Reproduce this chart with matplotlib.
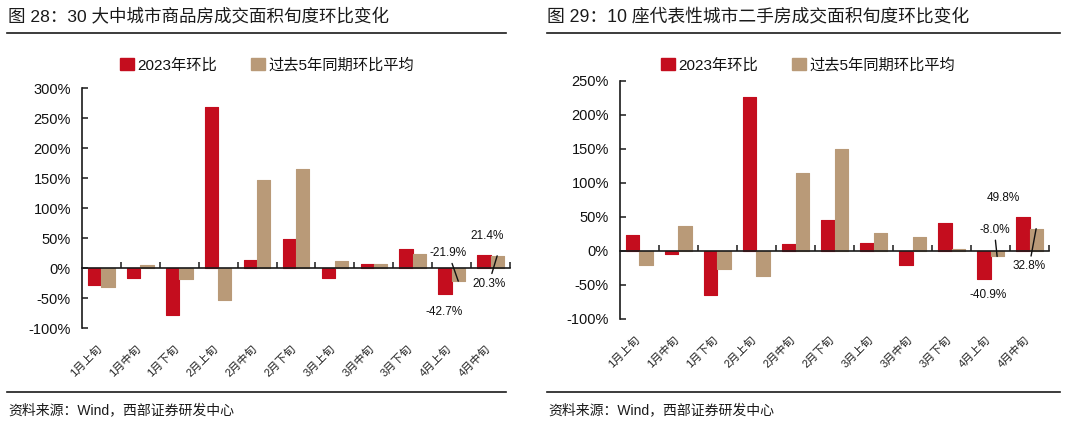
import matplotlib
matplotlib.use('Agg')
import matplotlib.pyplot as plt
import matplotlib.transforms as mtransforms
from matplotlib.lines import Line2D
from matplotlib.patches import Patch

plt.rcParams['font.family'] = ['Liberation Sans', 'Noto Sans CJK SC']

categories = ['1月上旬', '1月中旬', '1月下旬', '2月上旬', '2月中旬', '2月下旬',
              '3月上旬', '3月中旬', '3月下旬', '4月上旬', '4月中旬']

# 30 大中城市商品房
left_2023 = [-29, -16, -78, 268, 14, 48, -16, 7, 31, -42.7, 21.4]
left_avg5 = [-32, 5, -19, -53, 147, 165, 12, 6, 23, -21.9, 20.3]

# 10 座代表性城市二手房
right_2023 = [23, -5, -65, 226, 10, 46, 12, -20, 41, -40.9, 49.8]
right_avg5 = [-21, 37, -27, -37, 114, 150, 27, 21, 3, -8.0, 32.8]

RED = '#C40D1E'
TAN = '#B99A78'
DARK = '#1a1a1a'

W, H = 1074, 424
fig = plt.figure(figsize=(W / 100, H / 100), dpi=100)


def px_axes(x0, y_top, x1, y_bot):
    return fig.add_axes([x0 / W, 1 - y_bot / H, (x1 - x0) / W, (y_bot - y_top) / H])


def draw_panel(ax, red, tan, ylim, yticks, notes):
    x = list(range(len(categories)))
    w = 0.34
    ax.bar([i - w / 2 for i in x], red, width=w, color=RED, edgecolor=RED,
           linewidth=0.8, joinstyle='round', zorder=2)
    ax.bar([i + w / 2 for i in x], tan, width=w, color=TAN, edgecolor=TAN,
           linewidth=0.8, joinstyle='round', zorder=2)
    ax.set_xlim(-0.5, len(categories) - 0.5)
    ax.set_ylim(*ylim)
    ax.set_yticks(yticks)
    ax.set_yticklabels([f'{v}%' for v in yticks])
    ax.spines['top'].set_visible(False)
    ax.spines['right'].set_visible(False)
    ax.spines['bottom'].set_position(('data', 0))
    for s in ('left', 'bottom'):
        ax.spines[s].set_color(DARK)
        ax.spines[s].set_linewidth(1.2)
        ax.spines[s].set_zorder(3)
    ax.set_xticks([i + 0.5 for i in x])
    ax.set_xticklabels([])
    ax.tick_params(axis='x', direction='in', length=4, width=1.1, color=DARK)
    ax.tick_params(axis='y', direction='in', length=4.5, width=1.1, color=DARK,
                   labelsize=10.5, labelcolor='#111', pad=8)
    trans = mtransforms.blended_transform_factory(ax.transData, ax.transAxes)
    for i, lab in enumerate(categories):
        ax.text(i + 0.05, -0.065, lab, transform=trans, rotation=45, ha='right', va='top',
                fontsize=8, color='#222')
    # data labels for the latest two periods
    for idx, which, dx, dy, line in notes:
        vals = red if which == 'red' else tan
        xp = idx - w / 2 if which == 'red' else idx + w / 2
        v = vals[idx]
        props = dict(arrowstyle='-', color='#111', lw=1.0, shrinkA=1, shrinkB=0) if line else None
        ax.annotate(f'{v:.1f}%', xy=(xp, v), xytext=(dx, dy), textcoords='offset points',
                    ha='center', va='center', fontsize=8.5, color='#111',
                    arrowprops=props, zorder=4)
    ax.set_facecolor('white')


ax1 = px_axes(82, 88, 510, 328)
draw_panel(ax1, left_2023, left_avg5, (-100, 300), list(range(-100, 301, 50)),
           [(9, 'red', -1, -13, False), (9, 'tan', -7, 20, True),
            (10, 'red', 2, 14, False), (10, 'tan', -6, -20, True)])

ax2 = px_axes(620, 81, 1049, 319)
draw_panel(ax2, right_2023, right_avg5, (-100, 250), list(range(-100, 251, 50)),
           [(9, 'red', 3, -12, False), (9, 'tan', -2, 19, True),
            (10, 'red', -14, 14, False), (10, 'tan', -5, -27, True)])

# legends
handles = [Patch(facecolor=RED, edgecolor=RED), Patch(facecolor=TAN, edgecolor=TAN)]
labels = ['2023年环比', '过去5年同期环比平均']
for cx in (267 / W, 808 / W):
    fig.legend(handles, labels, loc='center', bbox_to_anchor=(cx, 1 - 65 / H), ncol=2,
               frameon=False, fontsize=11, handlelength=0.9, handleheight=0.9,
               handletextpad=0.25, columnspacing=2.2, labelcolor='#111')

# titles, rules and source notes
fig.text(8 / W, 1 - 17 / H, '图 28：30 大中城市商品房成交面积旬度环比变化',
         fontsize=12.6, color=DARK, va='center', ha='left')
fig.text(547 / W, 1 - 17 / H, '图 29：10 座代表性城市二手房成交面积旬度环比变化',
         fontsize=12.8, color=DARK, va='center', ha='left')
for x0, x1 in ((7, 506), (547, 1060)):
    for y in (33, 392):
        fig.add_artist(Line2D([x0 / W, x1 / W], [1 - y / H, 1 - y / H], color=DARK, lw=1.2))
    fig.text((x0 + 1) / W, 1 - 410 / H, '资料来源：Wind，西部证券研发中心',
             fontsize=10, color=DARK, va='center', ha='left')

fig.savefig('out.png', dpi=100, facecolor='white')
